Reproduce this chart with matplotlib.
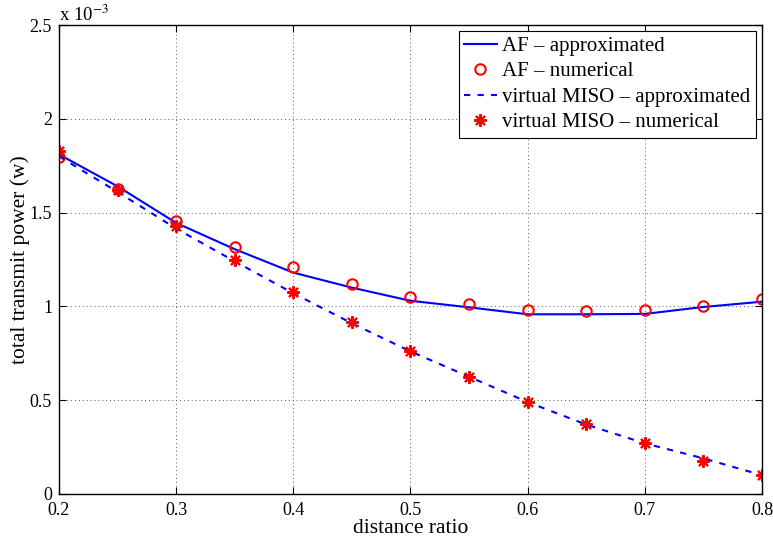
import numpy as np
import matplotlib
matplotlib.use("Agg")
import matplotlib.pyplot as plt
from matplotlib.ticker import FuncFormatter

# distance ratio
ratio = [0.2, 0.25, 0.3, 0.35, 0.4, 0.45, 0.5, 0.55, 0.6, 0.65, 0.7, 0.75, 0.8]

# total transmit power, in units of 1e-3 W
af_approx = [1.81, 1.64, 1.445, 1.305, 1.18, 1.10, 1.03, 0.995, 0.958, 0.958, 0.96, 0.997, 1.025]
af_num = [1.796, 1.626, 1.455, 1.317, 1.21, 1.119, 1.05, 1.011, 0.981, 0.975, 0.981, 1.002, 1.041]
miso_approx = [1.80, 1.61, 1.415, 1.24, 1.07, 0.91, 0.76, 0.625, 0.49, 0.37, 0.27, 0.19, 0.10]
miso_num = [1.83, 1.62, 1.43, 1.25, 1.077, 0.917, 0.762, 0.622, 0.489, 0.375, 0.272, 0.176, 0.101]

xticks = [0.2, 0.3, 0.4, 0.5, 0.6, 0.7, 0.8]
yticks = [0, 0.5, 1, 1.5, 2, 2.5]

plt.rcParams['font.family'] = ['Liberation Serif', 'DejaVu Serif']
plt.rcParams['font.size'] = 13
plt.rcParams['mathtext.fontset'] = 'stix'

fig = plt.figure(figsize=(7.73, 5.42), dpi=100)
ax = fig.add_axes([59 / 773, 48 / 542, 703 / 773, 469 / 542])

ax.plot(ratio, af_approx, '-', color='blue', lw=1.5, label='AF \u2013 approximated')
ax.plot(ratio, af_num, 'o', color='red', mfc='none', mew=1.5, ms=7.5, label='AF \u2013 numerical')
ax.plot(ratio, miso_approx, '--', color='blue', lw=1.5, dashes=(3, 3.5),
        label='virtual MISO \u2013 approximated')
ax.plot(ratio, miso_num, ls='none', marker=(8, 2, 0), color='red', mew=1.5, ms=9,
        label='virtual MISO \u2013 numerical')

ax.set_xlim(0.2, 0.8)
ax.set_ylim(0, 2.5)
ax.set_xticks(xticks)
ax.set_yticks(yticks)
ax.xaxis.set_major_formatter(FuncFormatter(lambda v, p: '%g' % v))
ax.yaxis.set_major_formatter(FuncFormatter(lambda v, p: '%g' % v))
ax.tick_params(direction='in', top=True, right=True, length=5, width=0.8, pad=5)
ax.tick_params(axis='x', pad=6)
ax.grid(True, ls=(0, (1, 3)), color='0.35', lw=0.7)
for s in ax.spines.values():
    s.set_linewidth(1.0)

ax.set_xlabel('distance ratio', fontsize=15.5, labelpad=0)
ax.set_ylabel('total transmit power (w)', fontsize=15.5, labelpad=0)
ax.text(0.0, 1.0, r'x 10$^{-3}$', transform=ax.transAxes, ha='left', va='bottom',
        fontsize=13.5)

leg = ax.legend(loc='upper right', fancybox=False, framealpha=1, edgecolor='black',
                borderaxespad=0.3, handlelength=1.6, handletextpad=0.25,
                labelspacing=0.28, borderpad=0.25, fontsize=15)
leg.get_frame().set_linewidth(0.8)

fig.savefig('out.png', dpi=100)
